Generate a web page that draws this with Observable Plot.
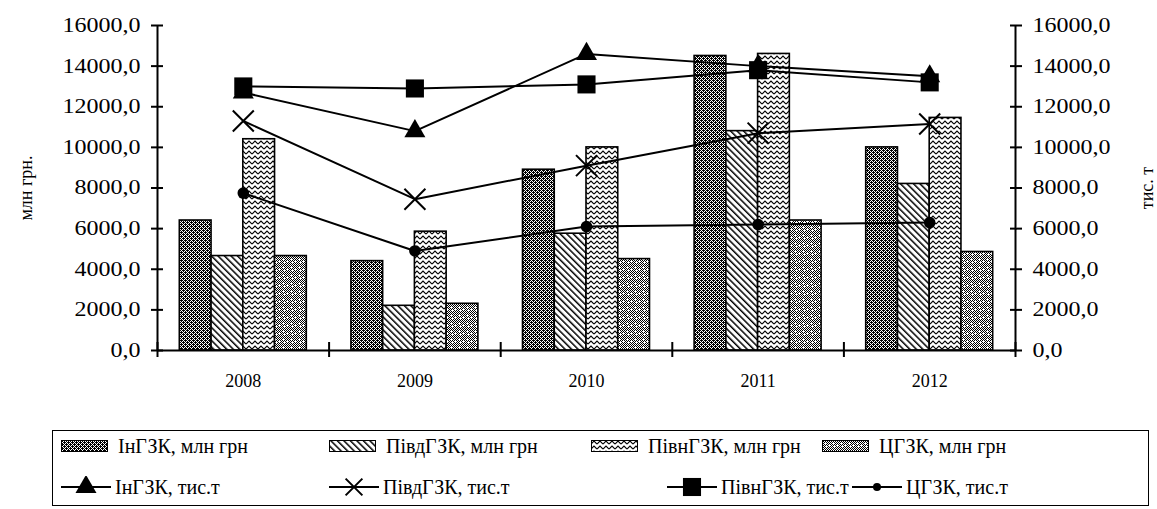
<!DOCTYPE html>
<html>
<head>
<meta charset="utf-8">
<script src="https://cdn.jsdelivr.net/npm/d3@7"></script>
<script src="https://cdn.jsdelivr.net/npm/@observablehq/plot@0.6"></script>
<style>
  body { margin: 0; background: #fff; font-family: "Liberation Serif", "Times New Roman", serif; }
  #wrap { position: relative; width: 1157px; height: 509px; }
  #legend { position: absolute; left: 0; top: 420px; width: 1157px; height: 89px; }
  #legend .box { position: absolute; left: 52px; top: 10px; width: 1097px; height: 76px; border: 1px solid #000; box-sizing: border-box; }
  #legend .item { position: absolute; display: flex; align-items: center; font-size: 20px; color: #000; white-space: nowrap; line-height: 1; }
  #legend svg { display: block; }
</style>
</head>
<body>
<svg width="0" height="0" style="position:absolute">
  <defs>
    <pattern id="pat0" width="4" height="4" patternUnits="userSpaceOnUse">
      <rect width="4" height="4" fill="#fff"/>
      <path d="M0,0h1v1h-1zM2,0h1v1h-1zM1,1h1v1h-1zM3,1h1v1h-1zM0,2h1v1h-1zM2,2h1v1h-1zM1,3h1v1h-1zM3,3h1v1h-1zM1,0h1v1h-1zM3,2h1v1h-1z" fill="#000"/>
    </pattern>
    <pattern id="pat1" width="4.6" height="4.6" patternUnits="userSpaceOnUse" patternTransform="rotate(-45)">
      <rect width="4.6" height="4.6" fill="#fff"/>
      <rect width="1.5" height="4.6" fill="#000"/>
    </pattern>
    <pattern id="pat2" width="6" height="5" patternUnits="userSpaceOnUse">
      <rect width="6" height="5" fill="#fff"/>
      <polyline points="0,4 3,1 6,4" fill="none" stroke="#000" stroke-width="1.1"/>
      <polyline points="0,-1 3,-4 6,-1" fill="none" stroke="#000" stroke-width="1.1"/>
    </pattern>
    <pattern id="pat3" width="8" height="8" patternUnits="userSpaceOnUse">
      <rect width="8" height="8" fill="#fff"/>
      <path d="M0,0h1v1h-1zM2,0h1v1h-1zM4,0h1v1h-1zM6,0h1v1h-1zM1,1h1v1h-1zM3,1h1v1h-1zM5,1h1v1h-1zM7,1h1v1h-1zM0,2h1v1h-1zM2,2h1v1h-1zM4,2h1v1h-1zM6,2h1v1h-1zM1,3h1v1h-1zM5,3h1v1h-1zM7,3h1v1h-1zM0,4h1v1h-1zM2,4h1v1h-1zM4,4h1v1h-1zM6,4h1v1h-1zM1,5h1v1h-1zM3,5h1v1h-1zM5,5h1v1h-1zM0,6h1v1h-1zM2,6h1v1h-1zM6,6h1v1h-1zM1,7h1v1h-1zM3,7h1v1h-1zM5,7h1v1h-1zM7,7h1v1h-1z" fill="#000"/>
    </pattern>
  </defs>
</svg>
<div id="wrap">
  <div id="chart"></div>
  <div id="legend"><div class="box"></div></div>
</div>
<script>
// ---- data ----
const years = [2008, 2009, 2010, 2011, 2012];
const seriesNames = ["ІнГЗК", "ПівдГЗК", "ПівнГЗК", "ЦГЗК"];
// bars: млн грн (left axis)
const inMoney   = [6400, 4400, 8900, 14500, 10000];
const pivdMoney = [4650, 2200, 5750, 10800, 8200];
const pivnMoney = [10400, 5850, 10000, 14600, 11450];
const cMoney    = [4650, 2300, 4500, 6400, 4850];
// lines: тис. т (right axis)
const inTons   = [12700, 10800, 14600, 14000, 13500];
const pivdTons = [11300, 7450, 9100, 10700, 11150];
const pivnTons = [13000, 12900, 13100, 13800, 13200];
const cTons    = [7750, 4900, 6100, 6200, 6300];
const yTicks = [0, 2000, 4000, 6000, 8000, 10000, 12000, 14000, 16000];
const leftTitle = "млн грн.";
const rightTitle = "тис. т";
const moneyLabels = ["ІнГЗК, млн грн", "ПівдГЗК, млн грн", "ПівнГЗК, млн грн", "ЦГЗК, млн грн"];
const tonLabels = ["ІнГЗК, тис.т", "ПівдГЗК, тис.т", "ПівнГЗК, тис.т", "ЦГЗК, тис.т"];

// ---- build tables ----
const moneySeries = [inMoney, pivdMoney, pivnMoney, cMoney];
const tonSeries = [inTons, pivdTons, pivnTons, cTons];
const symbols = ["triangle", "times", "square", "circle"];
const symR = [7.8, 9.6, 10.2, 5.8];
const patterns = ["url(#pat0)", "url(#pat1)", "url(#pat2)", "url(#pat3)"];
const bars = seriesNames.flatMap((s, i) => years.map((y, j) => ({year: y, series: s, i, value: moneySeries[i][j]})));
const lines = seriesNames.flatMap((s, i) => years.map((y, j) => ({year: y, series: s, i, value: tonSeries[i][j]})));
const boundaries = [years[0] - 0.5, ...years.map(y => y + 0.5)];
const barW = 0.185;
const fmt = d => d.toFixed(1).replace(".", ",");
const FONT = "Liberation Serif";

const marks = [];
seriesNames.forEach((s, i) => {
  marks.push(Plot.rect(bars.filter(d => d.i === i), {
    x1: d => d.year - 2 * barW + d.i * barW,
    x2: d => d.year - 2 * barW + (d.i + 1) * barW,
    y1: 0, y2: "value",
    fill: patterns[i], stroke: "#000", strokeWidth: 1.6
  }));
});
seriesNames.forEach((s, i) => {
  const data = lines.filter(d => d.i === i);
  marks.push(Plot.line(data, {x: "year", y: "value", stroke: "#000", strokeWidth: 2}));
  if (symbols[i] === "times") {
    marks.push(Plot.dot(data, {x: "year", y: "value", symbol: "times", r: symR[i], stroke: "#000", strokeWidth: 2, fill: "none"}));
  } else {
    marks.push(Plot.dot(data, {x: "year", y: "value", symbol: symbols[i], r: symR[i], fill: "#000", stroke: "none"}));
  }
});
// axes
marks.push(
  Plot.ruleX([boundaries[0], boundaries[boundaries.length - 1]], {y1: 0, y2: yTicks[yTicks.length - 1], stroke: "#000", strokeWidth: 2}),
  Plot.ruleY([0], {stroke: "#000", strokeWidth: 2}),
  Plot.axisY({anchor: "left", label: null, ticks: yTicks, tickSize: 6, tickPadding: 11, tickFormat: fmt, fontSize: 20, strokeWidth: 2}),
  Plot.axisY({anchor: "left", label: null, ticks: yTicks, tickSize: -6, tickFormat: () => "", strokeWidth: 2}),
  Plot.axisY({anchor: "right", label: null, ticks: yTicks, tickSize: 6, tickPadding: 11, tickFormat: fmt, fontSize: 20, strokeWidth: 2}),
  Plot.axisY({anchor: "right", label: null, ticks: yTicks, tickSize: -6, tickFormat: () => "", strokeWidth: 2}),
  Plot.axisX({label: null, ticks: boundaries, tickSize: 7, tickFormat: () => "", strokeWidth: 2}),
  Plot.axisX({label: null, ticks: boundaries, tickSize: -8, tickFormat: () => "", strokeWidth: 2}),
  Plot.axisX({label: null, ticks: years, tickSize: 0, tickPadding: 24, tickFormat: d => String(d), fontSize: 18}),
  Plot.text([leftTitle], {text: d => d, frameAnchor: "left", textAnchor: "middle", dx: -131, rotate: -90, fontSize: 18, fill: "#000"}),
  Plot.text([rightTitle], {text: d => d, frameAnchor: "right", textAnchor: "middle", dx: 132, rotate: -90, fontSize: 18, fill: "#000"})
);

const chart = Plot.plot({
  width: 1157,
  height: 420,
  marginLeft: 157,
  marginRight: 142,
  marginTop: 25,
  marginBottom: 70,
  x: {type: "linear", domain: [boundaries[0], boundaries[boundaries.length - 1]], axis: null, label: null},
  y: {domain: [0, 16000], axis: null, label: null},
  style: {fontFamily: FONT, color: "#000", background: "#fff", overflow: "visible"},
  marks
});
document.getElementById("chart").appendChild(chart);

// widen y tick labels (reference glyphs are horizontally stretched)
const stretch = 1.2;
chart.querySelectorAll("g[aria-label='y-axis tick label'] text").forEach(t => {
  const w = t.getComputedTextLength();
  if (w > 0) { t.setAttribute("textLength", (w * stretch).toFixed(1)); t.setAttribute("lengthAdjust", "spacingAndGlyphs"); }
});

// ---- legend ----
const legend = document.getElementById("legend");
const ns = "http://www.w3.org/2000/svg";
function mkSvg(w, h) { const s = document.createElementNS(ns, "svg"); s.setAttribute("width", w); s.setAttribute("height", h); return s; }
const row1 = [61, 329, 591, 822];
const row2 = [61, 329, 667, 852];
moneyLabels.forEach((lab, i) => {
  const it = document.createElement("div");
  it.className = "item";
  it.style.left = row1[i] + "px"; it.style.top = "15px"; it.style.height = "22px";
  const s = mkSvg(47, 12);
  const r = document.createElementNS(ns, "rect");
  r.setAttribute("x", 0.5); r.setAttribute("y", 0.5); r.setAttribute("width", 46); r.setAttribute("height", 11);
  r.setAttribute("fill", patterns[i]); r.setAttribute("stroke", "#000"); r.setAttribute("stroke-width", 1);
  s.appendChild(r);
  s.style.marginRight = "10px";
  it.appendChild(s);
  const t = document.createElement("span"); t.textContent = lab; it.appendChild(t);
  legend.appendChild(it);
});
tonLabels.forEach((lab, i) => {
  const it = document.createElement("div");
  it.className = "item";
  it.style.left = row2[i] + "px"; it.style.top = "56px"; it.style.height = "22px";
  const s = mkSvg(50, 22);
  const l = document.createElementNS(ns, "line");
  l.setAttribute("x1", 0); l.setAttribute("x2", 50); l.setAttribute("y1", 11); l.setAttribute("y2", 11);
  l.setAttribute("stroke", "#000"); l.setAttribute("stroke-width", 2);
  s.appendChild(l);
  const sym = {triangle: d3.symbolTriangle, times: d3.symbolTimes, square: d3.symbolSquare, circle: d3.symbolCircle}[symbols[i]];
  const p = document.createElementNS(ns, "path");
  const rr = i === 1 ? symR[i] * 0.8 : i === 3 ? 4 : symR[i];
  p.setAttribute("d", d3.symbol(sym, Math.PI * rr * rr)());
  p.setAttribute("transform", "translate(25,11)");
  if (symbols[i] === "times") { p.setAttribute("fill", "none"); p.setAttribute("stroke", "#000"); p.setAttribute("stroke-width", 2); }
  else p.setAttribute("fill", "#000");
  s.appendChild(p);
  s.style.marginRight = "4px";
  it.appendChild(s);
  const t = document.createElement("span"); t.textContent = lab; it.appendChild(t);
  legend.appendChild(it);
});
</script>
</body>
</html>
